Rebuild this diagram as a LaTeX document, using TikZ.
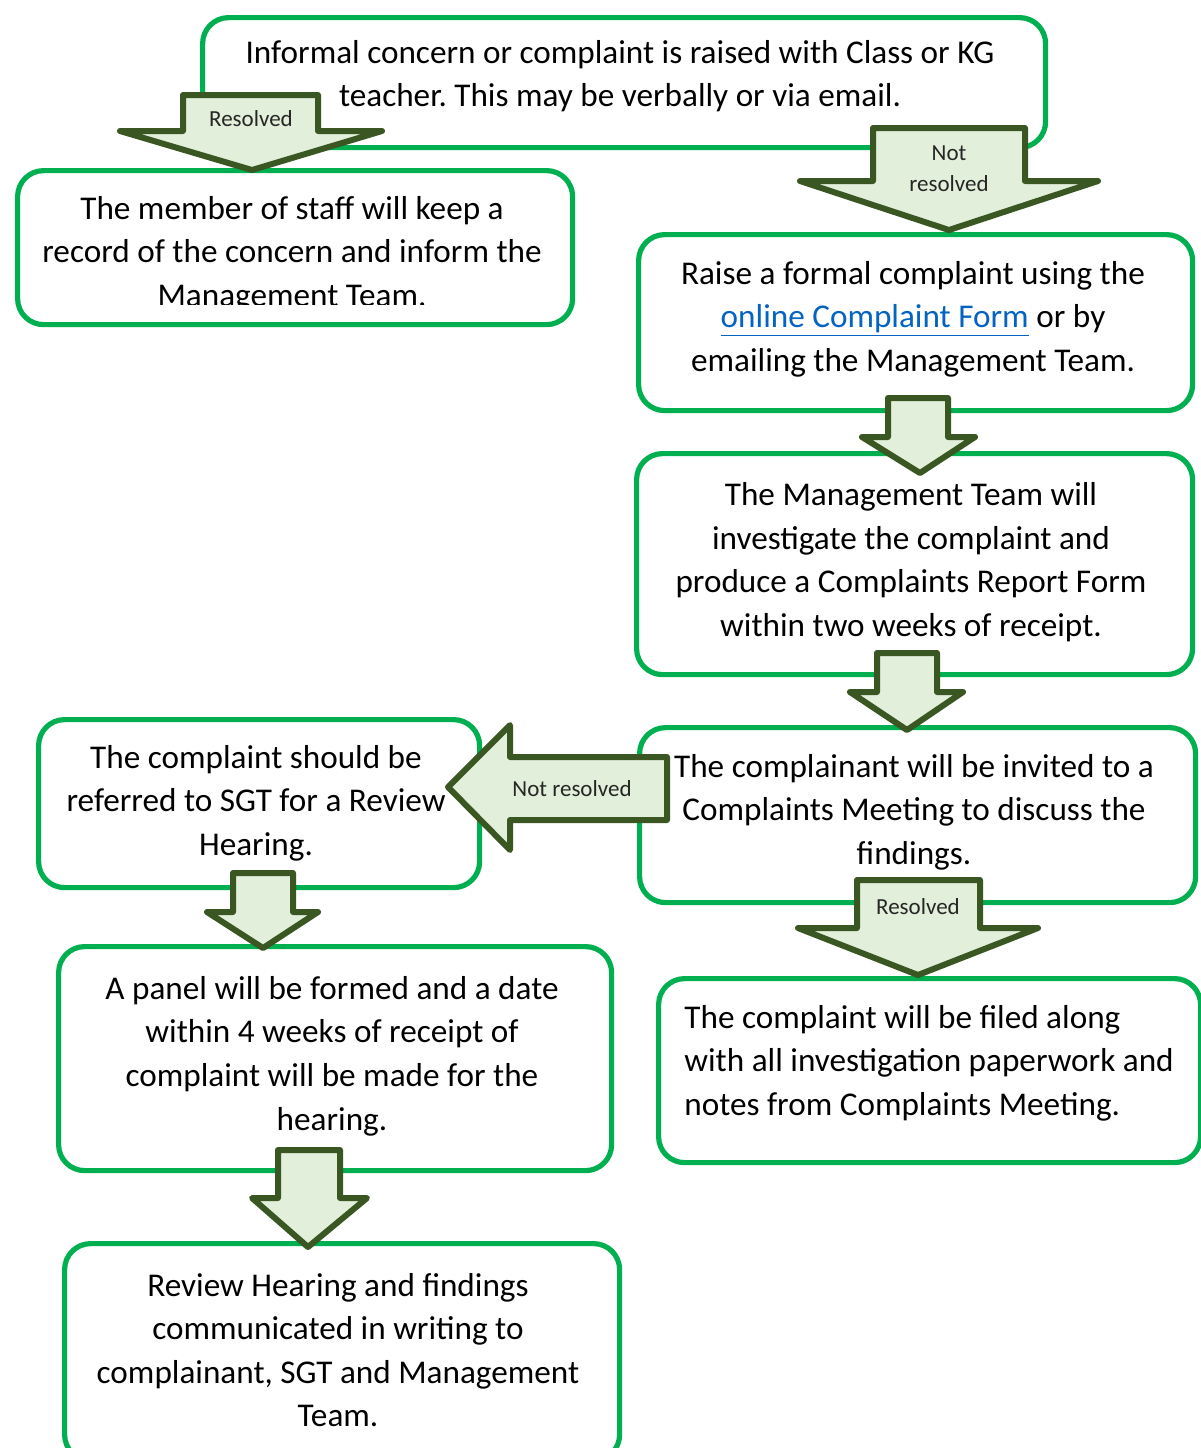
\documentclass[tikz,border=0pt]{standalone}
\usepackage{fontspec}
\setmainfont{Carlito}
\frenchspacing
\definecolor{boxgreen}{HTML}{00B050}
\definecolor{arrowdark}{HTML}{3A5723}
\definecolor{arrowfill}{HTML}{E2EFDA}
\definecolor{linkblue}{HTML}{0563C1}
\begin{document}
\begin{tikzpicture}[x=0.5pt,y=-0.5pt,
  box/.style={draw=boxgreen, line width=2.6pt, rounded corners=13pt, fill=white, anchor=north west, inner sep=0pt},
  blockarrow/.style={draw=arrowdark, fill=arrowfill, line width=3pt, line join=round},
  txt/.style={align=center, inner sep=0pt, font=\fontsize{16.6}{21.8}\selectfont},
  lbl/.style={inner sep=0pt, font=\fontsize{11.5}{15.5}\selectfont, text=black!85}]
\useasboundingbox (0,0) rectangle (1201,1448);
% boxes
\node[box, minimum width=421.5pt, minimum height=65pt] (b1) at (200,15) {};
\node[box, minimum width=277.5pt, minimum height=77pt] (b2) at (15,168) {};
\node[box, minimum width=277pt, minimum height=88pt] (b3) at (636,232) {};
\node[box, minimum width=278pt, minimum height=110.5pt] (b4) at (634,451) {};
\node[box, minimum width=278pt, minimum height=87.5pt] (b5) at (637,725) {};
\node[box, minimum width=220.5pt, minimum height=84pt] (b6) at (36,717) {};
\node[box, minimum width=276.5pt, minimum height=112pt] (b7) at (56,944) {};
\node[box, minimum width=271pt, minimum height=92pt] (b8) at (656,976) {};
\node[box, minimum width=277.5pt, minimum height=108.5pt] (b9) at (62,1241) {};
% texts
\node[txt] (t1) at (620,76) {Informal concern or complaint is raised with Class or KG\\teacher. This may be verbally or via email.};
\begin{scope}
\clip (15,168) rectangle (570,304);
\node[txt] (t2) at (292,254) {The member of staff will keep a\\record of the concern and inform the\\Management Team.};
\end{scope}
\node[txt] (t3) at (913,319) {Raise a formal complaint using the\\{\color{linkblue}\underline{online Complaint Form}} or by\\emailing the Management Team.};
\node[txt] (t4) at (911,562) {The Management Team will\\investigate the complaint and\\produce a Complaints Report Form\\within two weeks of receipt.};
\node[txt] (t5) at (914,812) {The complainant will be invited to a\\Complaints Meeting to discuss the\\findings.};
\node[txt] (t6) at (256,803) {The complaint should be\\referred to SGT for a Review\\Hearing.};
\node[txt] (t7) at (332,1056) {A panel will be formed and a date\\within 4 weeks of receipt of\\complaint will be made for the\\hearing.};
\node[txt, align=left, anchor=west] (t8) at (684,1063) {The complaint will be filed along\\with all investigation paperwork and\\notes from Complaints Meeting.};
\node[txt] (t9) at (338,1350) {Review Hearing and findings\\communicated in writing to\\complainant, SGT and Management\\Team.};
% block arrows
\draw[blockarrow] (183,95) -- (318,95) -- (318,131) -- (382,131) -- (252,170) -- (120,131) -- (183,131) -- cycle;
\node[lbl] (l1) at (251,119) {Resolved};
\draw[blockarrow] (873,128) -- (1025,128) -- (1025,181) -- (1098,181) -- (949,230) -- (800,181) -- (873,181) -- cycle;
\node[lbl] (l2a) at (949,153) {Not};
\node[lbl] (l2b) at (949,184) {resolved};
\draw[blockarrow] (888,398) -- (948,398) -- (948,437) -- (975,437) -- (920,473) -- (862,437) -- (888,437) -- cycle;
\draw[blockarrow] (877,653) -- (937,653) -- (937,692) -- (963,692) -- (907,730) -- (850,692) -- (877,692) -- cycle;
\draw[blockarrow] (667,757) -- (667,820) -- (510,820) -- (510,850) -- (448,787) -- (510,725) -- (510,757) -- cycle;
\node[lbl] (l5) at (572,789) {Not resolved};
\draw[blockarrow] (857,880) -- (980,880) -- (980,928) -- (1038,928) -- (918,975) -- (798,928) -- (857,928) -- cycle;
\node[lbl] (l6) at (918,907) {Resolved};
\draw[blockarrow] (233,873) -- (293,873) -- (293,912) -- (318,912) -- (263,948) -- (207,912) -- (233,912) -- cycle;
\draw[blockarrow] (278,1150) -- (340,1150) -- (340,1198) -- (367,1198) -- (308,1247) -- (252,1198) -- (278,1198) -- cycle;
\end{tikzpicture}
\end{document}
